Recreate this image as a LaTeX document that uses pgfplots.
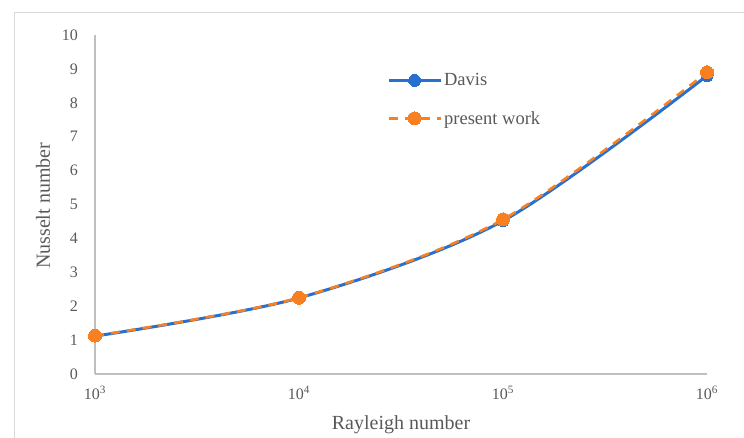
\documentclass[border=0pt]{standalone}
\usepackage{pgfplots}
\pgfplotsset{compat=1.18}
\usepackage{fontspec}
\setmainfont{Liberation Serif}
\definecolor{dblue}{RGB}{40,112,206}
\definecolor{porange}{RGB}{248,128,32}
\definecolor{axgray}{RGB}{191,191,191}
\definecolor{txtgray}{RGB}{89,89,89}
\begin{document}
\begin{tikzpicture}[x=1pt,y=1pt]
\path[use as bounding box] (0,0) rectangle (744,438);
\draw[color=black!15, line width=1pt] (14,-5) -- (14,425) -- (750,425);
\begin{axis}[
  at={(95pt,64pt)}, anchor=south west,
  width=612pt, height=339pt, scale only axis,
  xmode=log, log basis x=10,
  xmin=1000, xmax=1000000, ymin=0, ymax=10,
  axis lines=left, axis line style={axgray, line width=1.2pt, -},
  major tick length=0pt,
  xtick={1000,10000,100000,1000000},
  xticklabels={10\textsuperscript{3},10\textsuperscript{4},10\textsuperscript{5},10\textsuperscript{6}},
  ytick={0,1,...,10},
  /pgf/number format/assume math mode=true,
  tick label style={font=\fontsize{16}{18}\selectfont, text=txtgray},
  xticklabel style={anchor=north, inner sep=0pt, yshift=-12pt},
  yticklabel style={anchor=east, inner sep=0pt, xshift=-17pt},
  xlabel={Rayleigh number}, ylabel={Nusselt number},
  label style={font=\fontsize{20}{22}\selectfont, text=txtgray},
  xlabel style={at={(axis description cs:0.5,-0.150)}, anchor=center},
  ylabel style={at={(axis description cs:-0.085,0.496)}, anchor=center, rotate=0},
  clip=false,
  legend style={at={(0.477,0.893)}, anchor=north west, draw=none, fill=none,
    font=\fontsize{18.5}{20}\selectfont, text=txtgray, inner sep=0pt,
    row sep=20pt, legend cell align=left},
  legend image code/.code={\draw[#1, mark repeat=2, mark phase=2] plot coordinates {(0pt,0pt) (26pt,0pt) (52pt,0pt)};},
  /tikz/every even column/.append style={column sep=6pt},
]
\addplot[dblue, line width=3pt, smooth, mark=*, mark size=6pt, mark options={solid, fill=dblue, draw=dblue, line width=0pt}]
  coordinates {(1000,1.118) (10000,2.243) (100000,4.519) (1000000,8.80)};
\addlegendentry{Davis}
\addplot[porange, line width=2.6pt, smooth, dash pattern=on 9pt off 7pt, mark=*, mark size=6.5pt, mark options={solid, fill=porange, draw=porange, line width=0pt}]
  coordinates {(1000,1.13) (10000,2.25) (100000,4.56) (1000000,8.90)};
\addlegendentry{present work}
\end{axis}
\end{tikzpicture}
\end{document}
